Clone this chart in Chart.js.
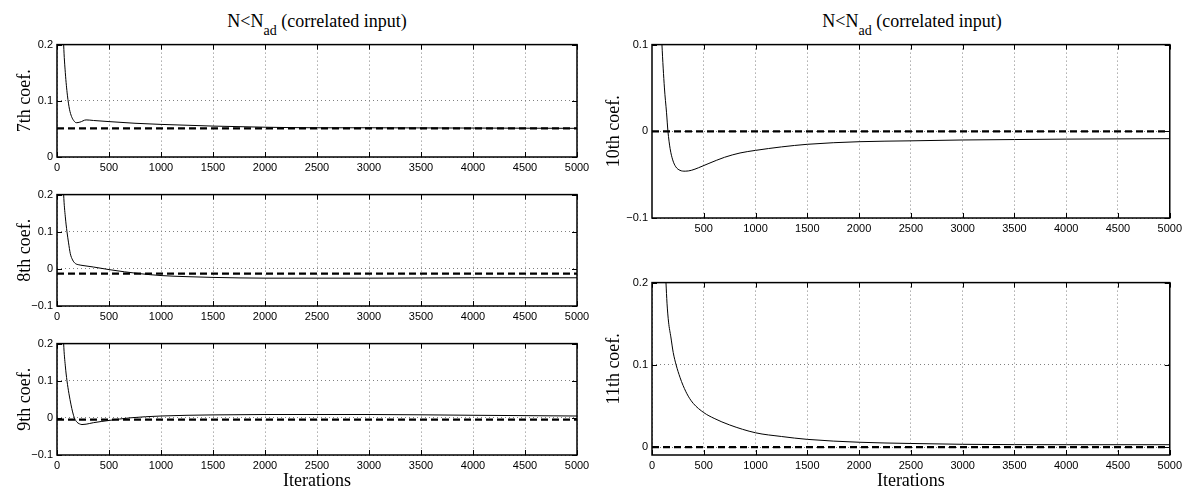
<!DOCTYPE html>
<html lang="en">
<head>
<meta charset="UTF-8">
<title>Adaptive filter coefficients, N&lt;N_ad</title>
<script src="https://cdn.jsdelivr.net/npm/chart.js"></script>
<style>
  body { margin: 0; background: #fff; width: 1186px; height: 490px; position: relative; overflow: hidden; }
  canvas { position: absolute; }
  .title {
    position: absolute; top: 12px; line-height: 18px;
    font-family: "Liberation Serif", "Times New Roman", serif; font-size: 18px; color: #000;
    white-space: nowrap; transform: translateX(-50%);
  }
  .title sub { font-size: 14px; vertical-align: -8px; line-height: 0; }
</style>
</head>
<body>
<div class="title" style="left:317px">N&lt;N<sub>ad</sub> (correlated input)</div>
<div class="title" style="left:912px">N&lt;N<sub>ad</sub> (correlated input)</div>

<canvas id="c7"></canvas>
<canvas id="c8"></canvas>
<canvas id="c9"></canvas>
<canvas id="c10"></canvas>
<canvas id="c11"></canvas>

<script>
// x axis ticks (iterations)
const iterTicks = [0, 500, 1000, 1500, 2000, 2500, 3000, 3500, 4000, 4500, 5000];
const iterTicksFrom500 = [500, 1000, 1500, 2000, 2500, 3000, 3500, 4000, 4500, 5000];

// 7th coefficient
const coef7Iter  = [40, 64, 80, 100, 120, 140, 160, 185, 220, 280, 350, 500, 750, 1000, 1500, 2000, 2500, 3000, 4000, 5000];
const coef7Value = [0.35, 0.2, 0.15, 0.11, 0.085, 0.072, 0.065, 0.061, 0.062, 0.066, 0.065, 0.063, 0.060, 0.058, 0.055, 0.053, 0.052, 0.052, 0.0515, 0.051];
const coef7Target = 0.051;
const coef7YTicks = [0, 0.1, 0.2];

// 8th coefficient
const coef8Iter  = [40, 64, 80, 96, 110, 128, 150, 176, 210, 250, 350, 500, 650, 800, 1000, 1250, 1500, 2000, 3000, 4000, 5000];
const coef8Value = [0.4, 0.2, 0.14, 0.1, 0.072, 0.041, 0.024, 0.0145, 0.011, 0.009, 0.005, -0.002, -0.008, -0.013, -0.018, -0.021, -0.023, -0.025, -0.025, -0.024, -0.024];
const coef8Target = -0.013;
const coef8YTicks = [-0.1, 0, 0.1, 0.2];

// 9th coefficient
const coef9Iter  = [40, 64, 80, 96, 115, 135, 150, 167, 190, 215, 240, 280, 350, 500, 700, 1000, 1500, 2000, 2500, 3000, 4000, 5000];
const coef9Value = [0.4, 0.2, 0.14, 0.1, 0.065, 0.035, 0.016, 0.0, -0.011, -0.016, -0.018, -0.017, -0.013, -0.007, 0.0, 0.005, 0.008, 0.009, 0.009, 0.009, 0.007, 0.005];
const coef9Target = -0.005;
const coef9YTicks = [-0.1, 0, 0.1, 0.2];

// 10th coefficient
const coef10Iter  = [60, 96, 120, 140, 154, 175, 200, 230, 270, 321, 380, 450, 550, 700, 850, 1000, 1250, 1500, 2000, 2500, 3000, 3500, 4000, 5000];
const coef10Value = [0.2, 0.1, 0.05, 0.022, 0.0, -0.02, -0.033, -0.041, -0.045, -0.046, -0.045, -0.042, -0.037, -0.030, -0.025, -0.022, -0.018, -0.015, -0.012, -0.011, -0.010, -0.0095, -0.009, -0.0085];
const coef10Target = 0;
const coef10YTicks = [-0.1, 0, 0.1];

// 11th coefficient
const coef11Iter  = [80, 135, 145, 160, 182, 205, 233, 270, 300, 350, 400, 500, 600, 750, 1000, 1250, 1500, 2000, 2500, 3000, 4000, 5000];
const coef11Value = [0.35, 0.2, 0.175, 0.152, 0.134, 0.115, 0.1, 0.085, 0.075, 0.062, 0.053, 0.042, 0.035, 0.027, 0.0175, 0.013, 0.0095, 0.006, 0.0045, 0.0035, 0.003, 0.003];
const coef11Target = 0;
const coef11YTicks = [0, 0.1, 0.2];

const serif = '"Liberation Serif", "Times New Roman", serif';
const sans = '"Liberation Sans", Arial, Helvetica, sans-serif';

// closed axes box with inward tick marks, matlab style
const axesBox = {
    id: 'axesBox',
    afterDatasetsDraw(chart) {
        const { ctx, chartArea: a, scales: { x, y } } = chart;
        const len = 5;
        ctx.save();
        ctx.setLineDash([]);
        ctx.strokeStyle = '#000';
        ctx.lineWidth = 1;
        ctx.beginPath();
        x.ticks.forEach(t => {
            const px = Math.round(x.getPixelForValue(t.value)) + 0.5;
            ctx.moveTo(px, a.top); ctx.lineTo(px, a.top + len);
            ctx.moveTo(px, a.bottom); ctx.lineTo(px, a.bottom - len);
        });
        y.ticks.forEach(t => {
            const py = Math.round(y.getPixelForValue(t.value)) + 0.5;
            ctx.moveTo(a.left, py); ctx.lineTo(a.left + len, py);
            ctx.moveTo(a.right, py); ctx.lineTo(a.right - len, py);
        });
        ctx.stroke();
        ctx.lineWidth = 1.5;
        ctx.strokeRect(a.left, a.top, a.right - a.left, a.bottom - a.top);
        ctx.restore();
    }
};

function fmt(v) {
    return v < 0 ? '\u2212' + Math.abs(v) : String(v);
}

function panel(id, p) {
    const canvas = document.getElementById(id);
    canvas.width = p.box.w;
    canvas.height = p.box.h;
    canvas.style.left = p.box.x + 'px';
    canvas.style.top = p.box.y + 'px';

    new Chart(canvas, {
        type: 'line',
        data: {
            datasets: [
                {
                    data: p.iters.map((it, i) => ({ x: it, y: p.values[i] })),
                    borderColor: '#000',
                    borderWidth: 1,
                    pointRadius: 0,
                    cubicInterpolationMode: 'monotone'
                },
                {
                    data: [{ x: 0, y: p.target }, { x: 5000, y: p.target }],
                    borderColor: '#000',
                    borderWidth: 2.2,
                    borderDash: [7, 4],
                    pointRadius: 0
                }
            ]
        },
        options: {
            responsive: false,
            animation: false,
            events: [],
            layout: {
                autoPadding: false,
                padding: { left: 0, top: p.area.t - p.box.y, right: p.box.x + p.box.w - p.area.r, bottom: 0 }
            },
            plugins: { legend: { display: false }, tooltip: { enabled: false } },
            scales: {
                x: {
                    type: 'linear',
                    min: 0,
                    max: 5000,
                    afterBuildTicks: s => { s.ticks = p.xTicks.map(v => ({ value: v })); },
                    afterFit: s => { s.height = p.box.y + p.box.h - p.area.b; },
                    ticks: { color: '#000', font: { family: sans, size: 11 }, padding: 4, maxRotation: 0, autoSkip: false, callback: v => fmt(v) },
                    grid: { color: '#808080', lineWidth: 1, drawTicks: false },
                    border: { display: false, dash: [1, 3] },
                    title: {
                        display: !!p.xTitle,
                        text: p.xTitle || '',
                        color: '#000',
                        font: { family: serif, size: 18, lineHeight: 1 },
                        padding: { top: 0, bottom: 0 }
                    }
                },
                y: {
                    min: p.yMin,
                    max: p.yMax,
                    afterBuildTicks: s => { s.ticks = p.yTicks.map(v => ({ value: v })); },
                    afterFit: s => { s.width = p.area.l - p.box.x; },
                    ticks: { color: '#000', font: { family: sans, size: 11 }, padding: 4, callback: v => fmt(v) },
                    grid: { color: '#808080', lineWidth: 1, drawTicks: false },
                    border: { display: false, dash: [1, 3] },
                    title: {
                        display: true,
                        text: p.yTitle,
                        color: '#000',
                        font: { family: serif, size: 18, lineHeight: 1 },
                        padding: { top: p.yTitlePad, bottom: 0 }
                    }
                }
            }
        },
        plugins: [axesBox]
    });
}

// left column
panel('c7', {
    box: { x: 0, y: 34, w: 600, h: 147 }, area: { l: 57, t: 44, r: 577, b: 157 },
    iters: coef7Iter, values: coef7Value, target: coef7Target,
    yMin: 0, yMax: 0.2, yTicks: coef7YTicks, xTicks: iterTicks,
    yTitle: '7th coef.', yTitlePad: 16
});
panel('c8', {
    box: { x: 0, y: 184, w: 600, h: 146 }, area: { l: 57, t: 194, r: 577, b: 306 },
    iters: coef8Iter, values: coef8Value, target: coef8Target,
    yMin: -0.1, yMax: 0.2, yTicks: coef8YTicks, xTicks: iterTicks,
    yTitle: '8th coef.', yTitlePad: 16
});
panel('c9', {
    box: { x: 0, y: 333, w: 600, h: 157 }, area: { l: 57, t: 343, r: 577, b: 455 },
    iters: coef9Iter, values: coef9Value, target: coef9Target,
    yMin: -0.1, yMax: 0.2, yTicks: coef9YTicks, xTicks: iterTicks,
    yTitle: '9th coef.', yTitlePad: 16, xTitle: 'Iterations'
});

// right column
panel('c10', {
    box: { x: 595, y: 34, w: 591, h: 208 }, area: { l: 652, t: 44, r: 1172, b: 218 },
    iters: coef10Iter, values: coef10Value, target: coef10Target,
    yMin: -0.1, yMax: 0.1, yTicks: coef10YTicks, xTicks: iterTicksFrom500,
    yTitle: '10th coef.', yTitlePad: 10
});
panel('c11', {
    box: { x: 595, y: 272, w: 591, h: 218 }, area: { l: 652, t: 282, r: 1172, b: 455 },
    iters: coef11Iter, values: coef11Value, target: coef11Target,
    yMin: -0.0095, yMax: 0.2, yTicks: coef11YTicks, xTicks: iterTicks,
    yTitle: '11th coef.', yTitlePad: 10, xTitle: 'Iterations'
});
</script>
</body>
</html>
